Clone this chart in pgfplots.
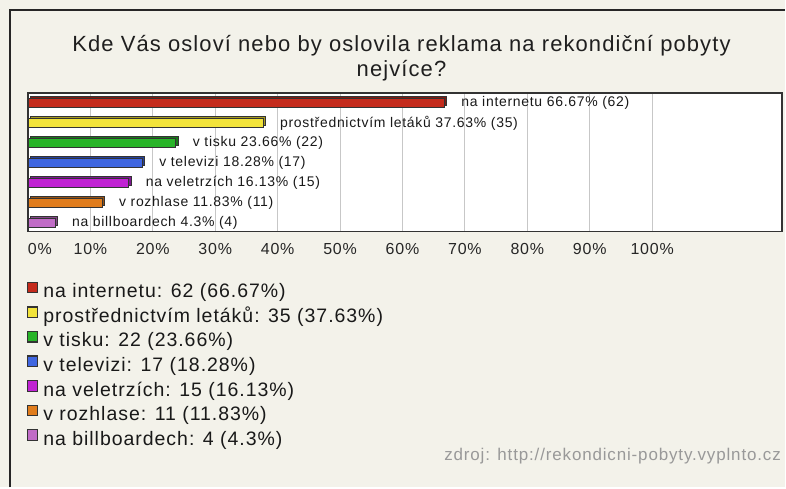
\documentclass[border=0pt]{standalone}
\usepackage{pgfplots}
\pgfplotsset{compat=1.18}
\usepackage{fontspec}
\setmainfont[LetterSpace=5]{Liberation Sans}

\definecolor{bg}{HTML}{F3F2EA}
\definecolor{c1}{HTML}{C42B1C}\definecolor{c1d}{HTML}{7E1B12}
\definecolor{c2}{HTML}{F2E33A}\definecolor{c2d}{HTML}{A89C20}
\definecolor{c3}{HTML}{28B428}\definecolor{c3d}{HTML}{187818}
\definecolor{c4}{HTML}{3F66E0}\definecolor{c4d}{HTML}{26409A}
\definecolor{c5}{HTML}{C023D3}\definecolor{c5d}{HTML}{7E1790}
\definecolor{c6}{HTML}{E07C1C}\definecolor{c6d}{HTML}{985212}
\definecolor{c7}{HTML}{C06CC6}\definecolor{c7d}{HTML}{844688}

\newcommand\fsz[1]{\fontsize{#1pt}{#1pt}\selectfont}

\pgfplotsset{
  front/.style={bar shift=0pt, draw=black!80, line width=0.6pt,
    nodes near coords, point meta=explicit symbolic,
    nodes near coords style={anchor=west, inner sep=0pt, xshift=17pt,
      font=\fsz{14}, text=black!90},
    legend image code/.code={\draw[##1, line width=1.2pt] (0pt,0.5pt) rectangle (10.5pt,11pt);}},
  back/.style={bar shift=0pt, draw=black!80, line width=0.6pt,
    xshift=2.5pt, yshift=2pt, forget plot},
}

\begin{document}
\begin{tikzpicture}
\fill[bg] (0pt,0pt) rectangle (786pt,488pt);
\draw[line width=2pt, black!85] (10pt,0pt) -- (10pt,478pt) -- (786pt,478pt);
\node[anchor=base, font=\fsz{22}, text=black!88, inner sep=0pt] at (402pt,436pt)
  {Kde Vás osloví nebo by oslovila reklama na rekondiční pobyty};
\node[anchor=base, font=\fsz{22}, text=black!88, inner sep=0pt] at (402pt,411pt) {nejvíce?};
\node[anchor=base east, font=\fsz{17}, text=black!40, inner sep=0pt] at (782pt,27pt)
  {zdroj: http://rekondicni-pobyty.vyplnto.cz};

\begin{axis}[
  at={(28pt,256pt)}, anchor=south west,
  width=755pt, height=139pt, scale only axis,
  xbar, bar width=9pt,
  xmin=0, xmax=120.8, ymin=-0.45, ymax=6.5,
  ytick=\empty,
  xtick={0,10,...,100},
  xticklabels={\makebox[0pt][l]{0\%},10\%,20\%,30\%,40\%,50\%,60\%,70\%,80\%,90\%,100\%},
  major tick length=0pt,
  xmajorgrids, grid style={draw=black!22, line width=1pt},
  axis line style={draw=black!80, line width=1.5pt},
  axis background/.style={fill=white},
  xticklabel style={font=\fsz{16}, anchor=north, inner sep=0pt, yshift=-11pt, text=black!85},
  legend cell align=left,
  legend style={at={(-0.002,-0.359)}, anchor=north west, draw=none, fill=none,
    font=\fsz{19.5}, inner sep=0pt, row sep=3.5pt, column sep=5pt,
    nodes={inner sep=0pt, text height=14pt, text depth=5pt, text=black!90}},
]
% back faces (3D depth)
\addplot[back, fill=c1d] coordinates {(66.67,6)};
\addplot[back, fill=c2d] coordinates {(37.63,5)};
\addplot[back, fill=c3d] coordinates {(23.66,4)};
\addplot[back, fill=c4d] coordinates {(18.28,3)};
\addplot[back, fill=c5d] coordinates {(16.13,2)};
\addplot[back, fill=c6d] coordinates {(11.83,1)};
\addplot[back, fill=c7d] coordinates {(4.3,0)};
% front faces
\addplot[front, fill=c1] coordinates {(66.67,6) [na internetu 66.67\% (62)]};
\addplot[front, fill=c2] coordinates {(37.63,5) [prostřednictvím letáků 37.63\% (35)]};
\addplot[front, fill=c3] coordinates {(23.66,4) [v tisku 23.66\% (22)]};
\addplot[front, fill=c4] coordinates {(18.28,3) [v televizi 18.28\% (17)]};
\addplot[front, fill=c5] coordinates {(16.13,2) [na veletrzích 16.13\% (15)]};
\addplot[front, fill=c6] coordinates {(11.83,1) [v rozhlase 11.83\% (11)]};
\addplot[front, fill=c7] coordinates {(4.3,0) [na billboardech 4.3\% (4)]};
\legend{na internetu: 62 (66.67\%), prostřednictvím letáků: 35 (37.63\%),
  v tisku: 22 (23.66\%), v televizi: 17 (18.28\%), na veletrzích: 15 (16.13\%),
  v rozhlase: 11 (11.83\%), na billboardech: 4 (4.3\%)}
\end{axis}
\end{tikzpicture}
\end{document}
